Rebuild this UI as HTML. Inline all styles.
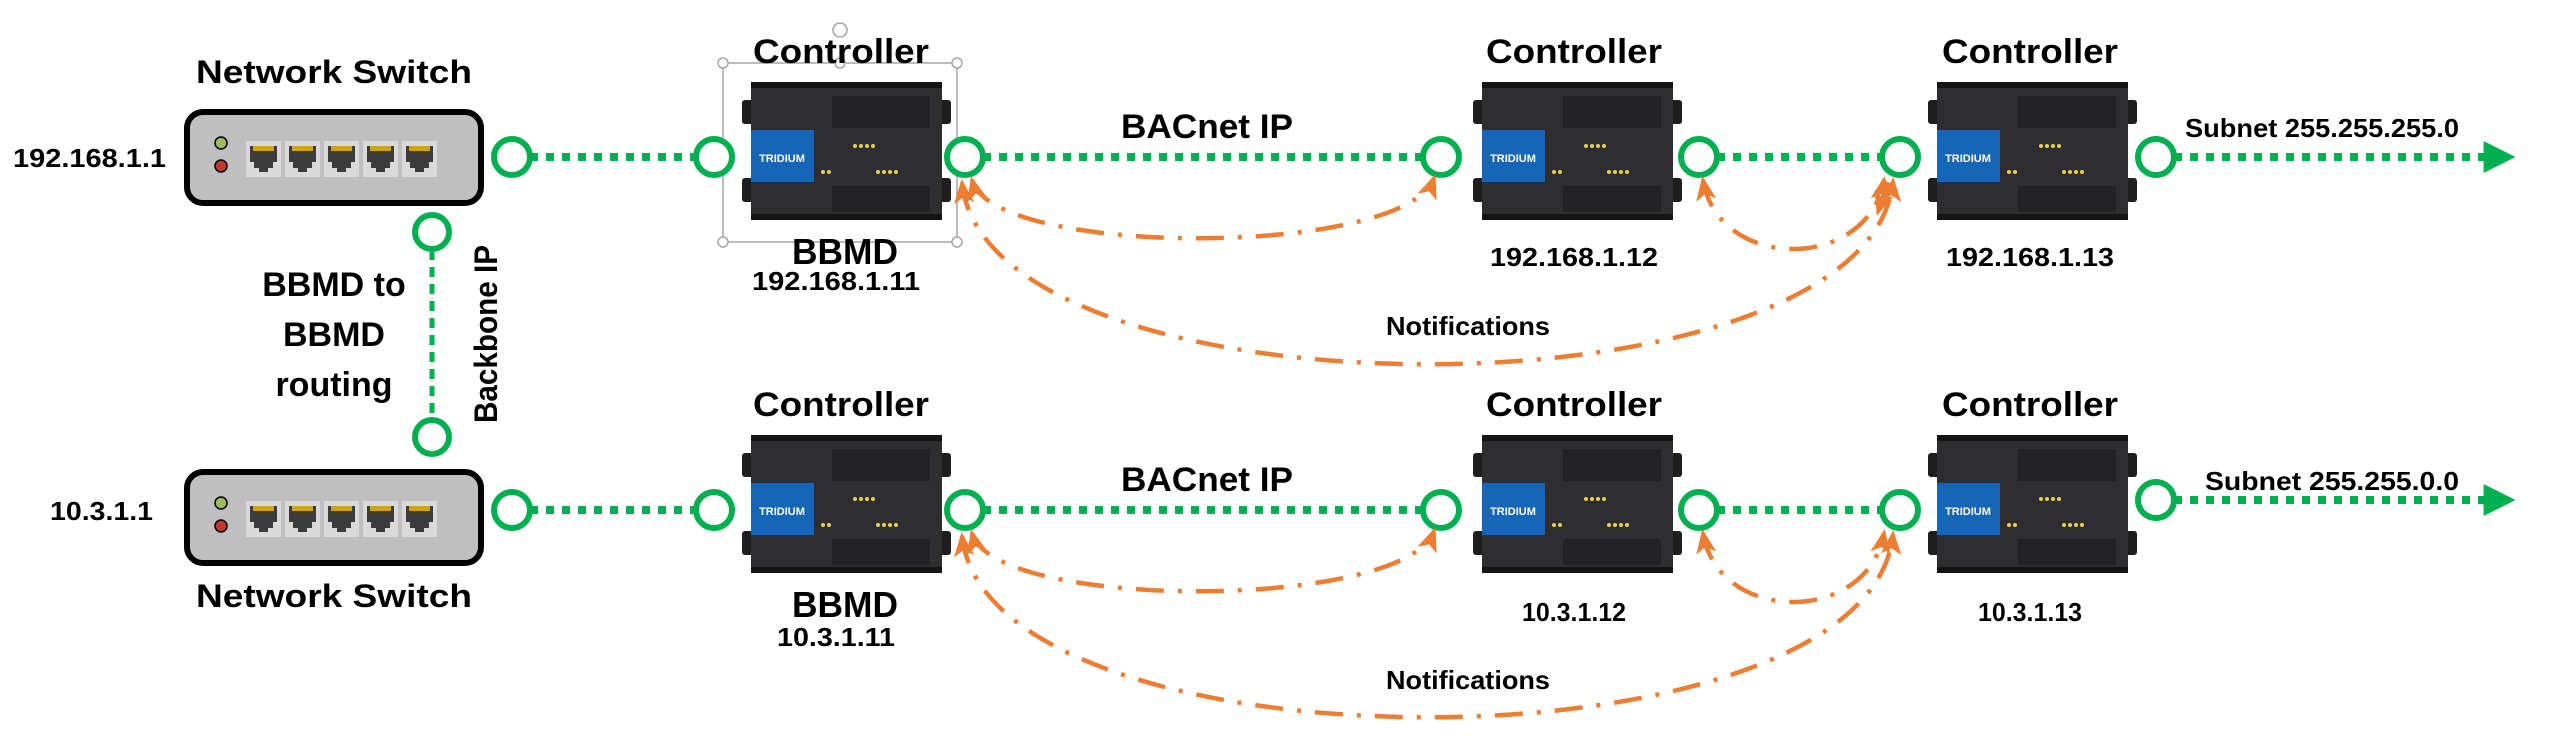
<!DOCTYPE html>
<html><head><meta charset="utf-8"><style>
html,body{margin:0;padding:0;background:#fff;}
svg{display:block;}
text{font-family:"Liberation Sans",sans-serif;font-weight:bold;fill:#000;}
</style></head><body>
<svg width="2557" height="746" viewBox="0 0 2557 746" xmlns="http://www.w3.org/2000/svg">
<defs>
<marker id="ah" viewBox="0 0 12 10" refX="10" refY="5" markerWidth="6" markerHeight="4.5" orient="auto-start-reverse" markerUnits="strokeWidth">
<path d="M0,0 L12,5 L0,10 L3,5 z" fill="#ED7D31"/></marker>
<marker id="gh" viewBox="0 0 10 10" refX="2" refY="5" markerWidth="4" markerHeight="4" orient="auto" markerUnits="strokeWidth">
<path d="M0,0 L10,5 L0,10 z" fill="#00B050"/></marker>
<g id="sw">
<rect x="3" y="3" width="294" height="91" rx="16" fill="#bfbfbf" stroke="#000" stroke-width="6"/>
<circle cx="37" cy="34" r="6" fill="#9bbb59" stroke="#000" stroke-width="1.5"/>
<circle cx="37" cy="57" r="6" fill="#c0392b" stroke="#000" stroke-width="1.5"/>
<g id="port"><rect x="62" y="32" width="35" height="36" fill="#d9d9d9"/><path d="M66,37 h27 v16 h-4 v6 h-5 v4 h-9 v-4 h-5 v-6 h-4z" fill="#3c3c3c"/><rect x="69" y="37" width="21" height="5" fill="#d4a017"/></g>
<use href="#port" x="39"/><use href="#port" x="78"/><use href="#port" x="117"/><use href="#port" x="156"/>
</g>
<g id="ctl">
<rect x="0" y="18" width="14" height="24" rx="3" fill="#1e1e1e"/><rect x="0" y="96" width="14" height="24" rx="3" fill="#1e1e1e"/>
<rect x="195" y="18" width="14" height="24" rx="3" fill="#1e1e1e"/><rect x="195" y="96" width="14" height="24" rx="3" fill="#1e1e1e"/>
<rect x="9" y="0" width="191" height="138" fill="#2e2e30"/>
<rect x="9" y="0" width="191" height="6" fill="#151515"/>
<rect x="9" y="132" width="191" height="6" fill="#151515"/>
<rect x="90" y="14" width="98" height="32" fill="#232325"/>
<rect x="90" y="104" width="98" height="26" fill="#232325"/>
<rect x="9" y="48" width="63" height="52" fill="#1565b8"/>
<g fill="#e8d04a"><circle cx="113" cy="64" r="2"/><circle cx="119" cy="64" r="2"/><circle cx="125" cy="64" r="2"/><circle cx="131" cy="64" r="2"/>
<circle cx="81" cy="90" r="2"/><circle cx="87" cy="90" r="2"/>
<circle cx="136" cy="90" r="2"/><circle cx="142" cy="90" r="2"/><circle cx="148" cy="90" r="2"/><circle cx="154" cy="90" r="2"/></g>
</g>
</defs>

<use href="#sw" x="184" y="109"/>
<text x="334" y="83" font-size="32" text-anchor="middle" textLength="276" lengthAdjust="spacingAndGlyphs">Network Switch</text>
<text x="13" y="167" font-size="26" textLength="153" lengthAdjust="spacingAndGlyphs">192.168.1.1</text>
<use href="#sw" x="184" y="469"/>
<text x="334" y="607" font-size="32" text-anchor="middle" textLength="276" lengthAdjust="spacingAndGlyphs">Network Switch</text>
<text x="50" y="520" font-size="26" textLength="103" lengthAdjust="spacingAndGlyphs">10.3.1.1</text>

<line x1="432" y1="250" x2="432" y2="420" stroke="#00B050" stroke-width="5" stroke-dasharray="10 7"/>
<circle cx="432" cy="232" r="17" fill="#fff" stroke="#00B050" stroke-width="6"/>
<circle cx="432" cy="437" r="17" fill="#fff" stroke="#00B050" stroke-width="6"/>
<text x="334" y="296" font-size="34" text-anchor="middle">BBMD to</text>
<text x="334" y="346" font-size="34" text-anchor="middle">BBMD</text>
<text x="334" y="396" font-size="34" text-anchor="middle">routing</text>
<text transform="translate(497,334) rotate(-90)" font-size="32" text-anchor="middle" textLength="178" lengthAdjust="spacingAndGlyphs">Backbone IP</text>

<g>
<g stroke="#00B050" stroke-width="8" stroke-dasharray="8 8" fill="none">
<line x1="530" y1="157" x2="696" y2="157"/>
<line x1="983" y1="157" x2="1423" y2="157"/>
<line x1="1717" y1="157" x2="1882" y2="157"/>
<line x1="2174" y1="157" x2="2490" y2="157" marker-end="url(#gh)"/>
</g>
<use href="#ctl" x="742" y="82"/><use href="#ctl" x="1473" y="82"/><use href="#ctl" x="1928" y="82"/>
</g>
<g transform="translate(0,353)">
<g stroke="#00B050" stroke-width="8" stroke-dasharray="8 8" fill="none">
<line x1="530" y1="157" x2="696" y2="157"/>
<line x1="983" y1="157" x2="1423" y2="157"/>
<line x1="1717" y1="157" x2="1882" y2="157"/>
<line x1="2174" y1="147" x2="2490" y2="147" marker-end="url(#gh)"/>
</g>
<use href="#ctl" x="742" y="82"/><use href="#ctl" x="1473" y="82"/><use href="#ctl" x="1928" y="82"/>
</g>

<g font-size="11">
<text x="782" y="162" font-size="11" text-anchor="middle" style="fill:#fff">TRIDIUM</text>
<text x="1513" y="162" font-size="11" text-anchor="middle" style="fill:#fff">TRIDIUM</text>
<text x="1968" y="162" font-size="11" text-anchor="middle" style="fill:#fff">TRIDIUM</text>
<text x="782" y="515" font-size="11" text-anchor="middle" style="fill:#fff">TRIDIUM</text>
<text x="1513" y="515" font-size="11" text-anchor="middle" style="fill:#fff">TRIDIUM</text>
<text x="1968" y="515" font-size="11" text-anchor="middle" style="fill:#fff">TRIDIUM</text>
</g>

<g stroke="#a6a6a6" stroke-width="1.5" fill="#fff">
<rect x="723" y="63" width="234" height="179" fill="none"/>
<circle cx="723" cy="63" r="5"/><circle cx="840" cy="63" r="5"/><circle cx="957" cy="63" r="5"/>
<circle cx="723" cy="242" r="5"/><circle cx="957" cy="242" r="5"/>
<circle cx="722" cy="153" r="5"/><circle cx="958" cy="153" r="5"/>
<circle cx="840" cy="30" r="7" fill="none"/>
</g>

<g fill="#fff" stroke="#00B050" stroke-width="6">
<circle cx="512" cy="157" r="18"/><circle cx="714" cy="157" r="18"/><circle cx="965" cy="157" r="18"/>
<circle cx="1441" cy="157" r="18"/><circle cx="1699" cy="157" r="18"/><circle cx="1900" cy="157" r="18"/><circle cx="2156" cy="157" r="18"/>
<circle cx="512" cy="510" r="18"/><circle cx="714" cy="510" r="18"/><circle cx="965" cy="510" r="18"/>
<circle cx="1441" cy="510" r="18"/><circle cx="1699" cy="510" r="18"/><circle cx="1900" cy="510" r="18"/><circle cx="2156" cy="500" r="18"/>
</g>

<g stroke="#ED7D31" stroke-width="4.5" fill="none" stroke-dasharray="28 14 4 14" marker-start="url(#ah)" marker-end="url(#ah)">
<path d="M972,180 C992,258 1405,258 1434,178"/>
<path d="M962,183 C988,425 1870,425 1893,181"/>
<path d="M1703,180 C1718,272 1868,272 1884,180"/>
<path d="M1888,182 C1882,200 1880,206 1878,212" marker-start="none"/>
<g transform="translate(0,353)">
<path d="M972,180 C992,258 1405,258 1434,178"/>
<path d="M962,183 C988,425 1870,425 1893,181"/>
<path d="M1703,180 C1718,272 1868,272 1884,180"/>
</g>
</g>

<g font-size="34">
<text x="841" y="63" font-size="34" text-anchor="middle" textLength="176" lengthAdjust="spacingAndGlyphs">Controller</text>
<text x="1574" y="63" font-size="34" text-anchor="middle" textLength="176" lengthAdjust="spacingAndGlyphs">Controller</text>
<text x="2030" y="63" font-size="34" text-anchor="middle" textLength="176" lengthAdjust="spacingAndGlyphs">Controller</text>
<text x="841" y="416" font-size="34" text-anchor="middle" textLength="176" lengthAdjust="spacingAndGlyphs">Controller</text>
<text x="1574" y="416" font-size="34" text-anchor="middle" textLength="176" lengthAdjust="spacingAndGlyphs">Controller</text>
<text x="2030" y="416" font-size="34" text-anchor="middle" textLength="176" lengthAdjust="spacingAndGlyphs">Controller</text>
<text x="1207" y="138" font-size="34" text-anchor="middle" textLength="172" lengthAdjust="spacingAndGlyphs">BACnet IP</text>
<text x="1207" y="491" font-size="34" text-anchor="middle" textLength="172" lengthAdjust="spacingAndGlyphs">BACnet IP</text>
<text x="845" y="264" font-size="36" text-anchor="middle" textLength="106" lengthAdjust="spacingAndGlyphs">BBMD</text>
<text x="845" y="617" font-size="36" text-anchor="middle" textLength="106" lengthAdjust="spacingAndGlyphs">BBMD</text>
</g>
<text x="836" y="290" font-size="26" text-anchor="middle" textLength="168" lengthAdjust="spacingAndGlyphs">192.168.1.11</text>
<text x="1574" y="266" font-size="26" text-anchor="middle" textLength="168" lengthAdjust="spacingAndGlyphs">192.168.1.12</text>
<text x="2030" y="266" font-size="26" text-anchor="middle" textLength="168" lengthAdjust="spacingAndGlyphs">192.168.1.13</text>
<text x="836" y="646" font-size="26" text-anchor="middle" textLength="118" lengthAdjust="spacingAndGlyphs">10.3.1.11</text>
<text x="1574" y="621" font-size="26" text-anchor="middle" textLength="104" lengthAdjust="spacingAndGlyphs">10.3.1.12</text>
<text x="2030" y="621" font-size="26" text-anchor="middle" textLength="104" lengthAdjust="spacingAndGlyphs">10.3.1.13</text>
<text x="2185" y="137" font-size="26" textLength="274" lengthAdjust="spacingAndGlyphs">Subnet 255.255.255.0</text>
<text x="2205" y="490" font-size="26" textLength="254" lengthAdjust="spacingAndGlyphs">Subnet 255.255.0.0</text>
<text x="1468" y="335" font-size="26" text-anchor="middle" textLength="164" lengthAdjust="spacingAndGlyphs">Notifications</text>
<text x="1468" y="689" font-size="26" text-anchor="middle" textLength="164" lengthAdjust="spacingAndGlyphs">Notifications</text>
</svg>
</body></html>
